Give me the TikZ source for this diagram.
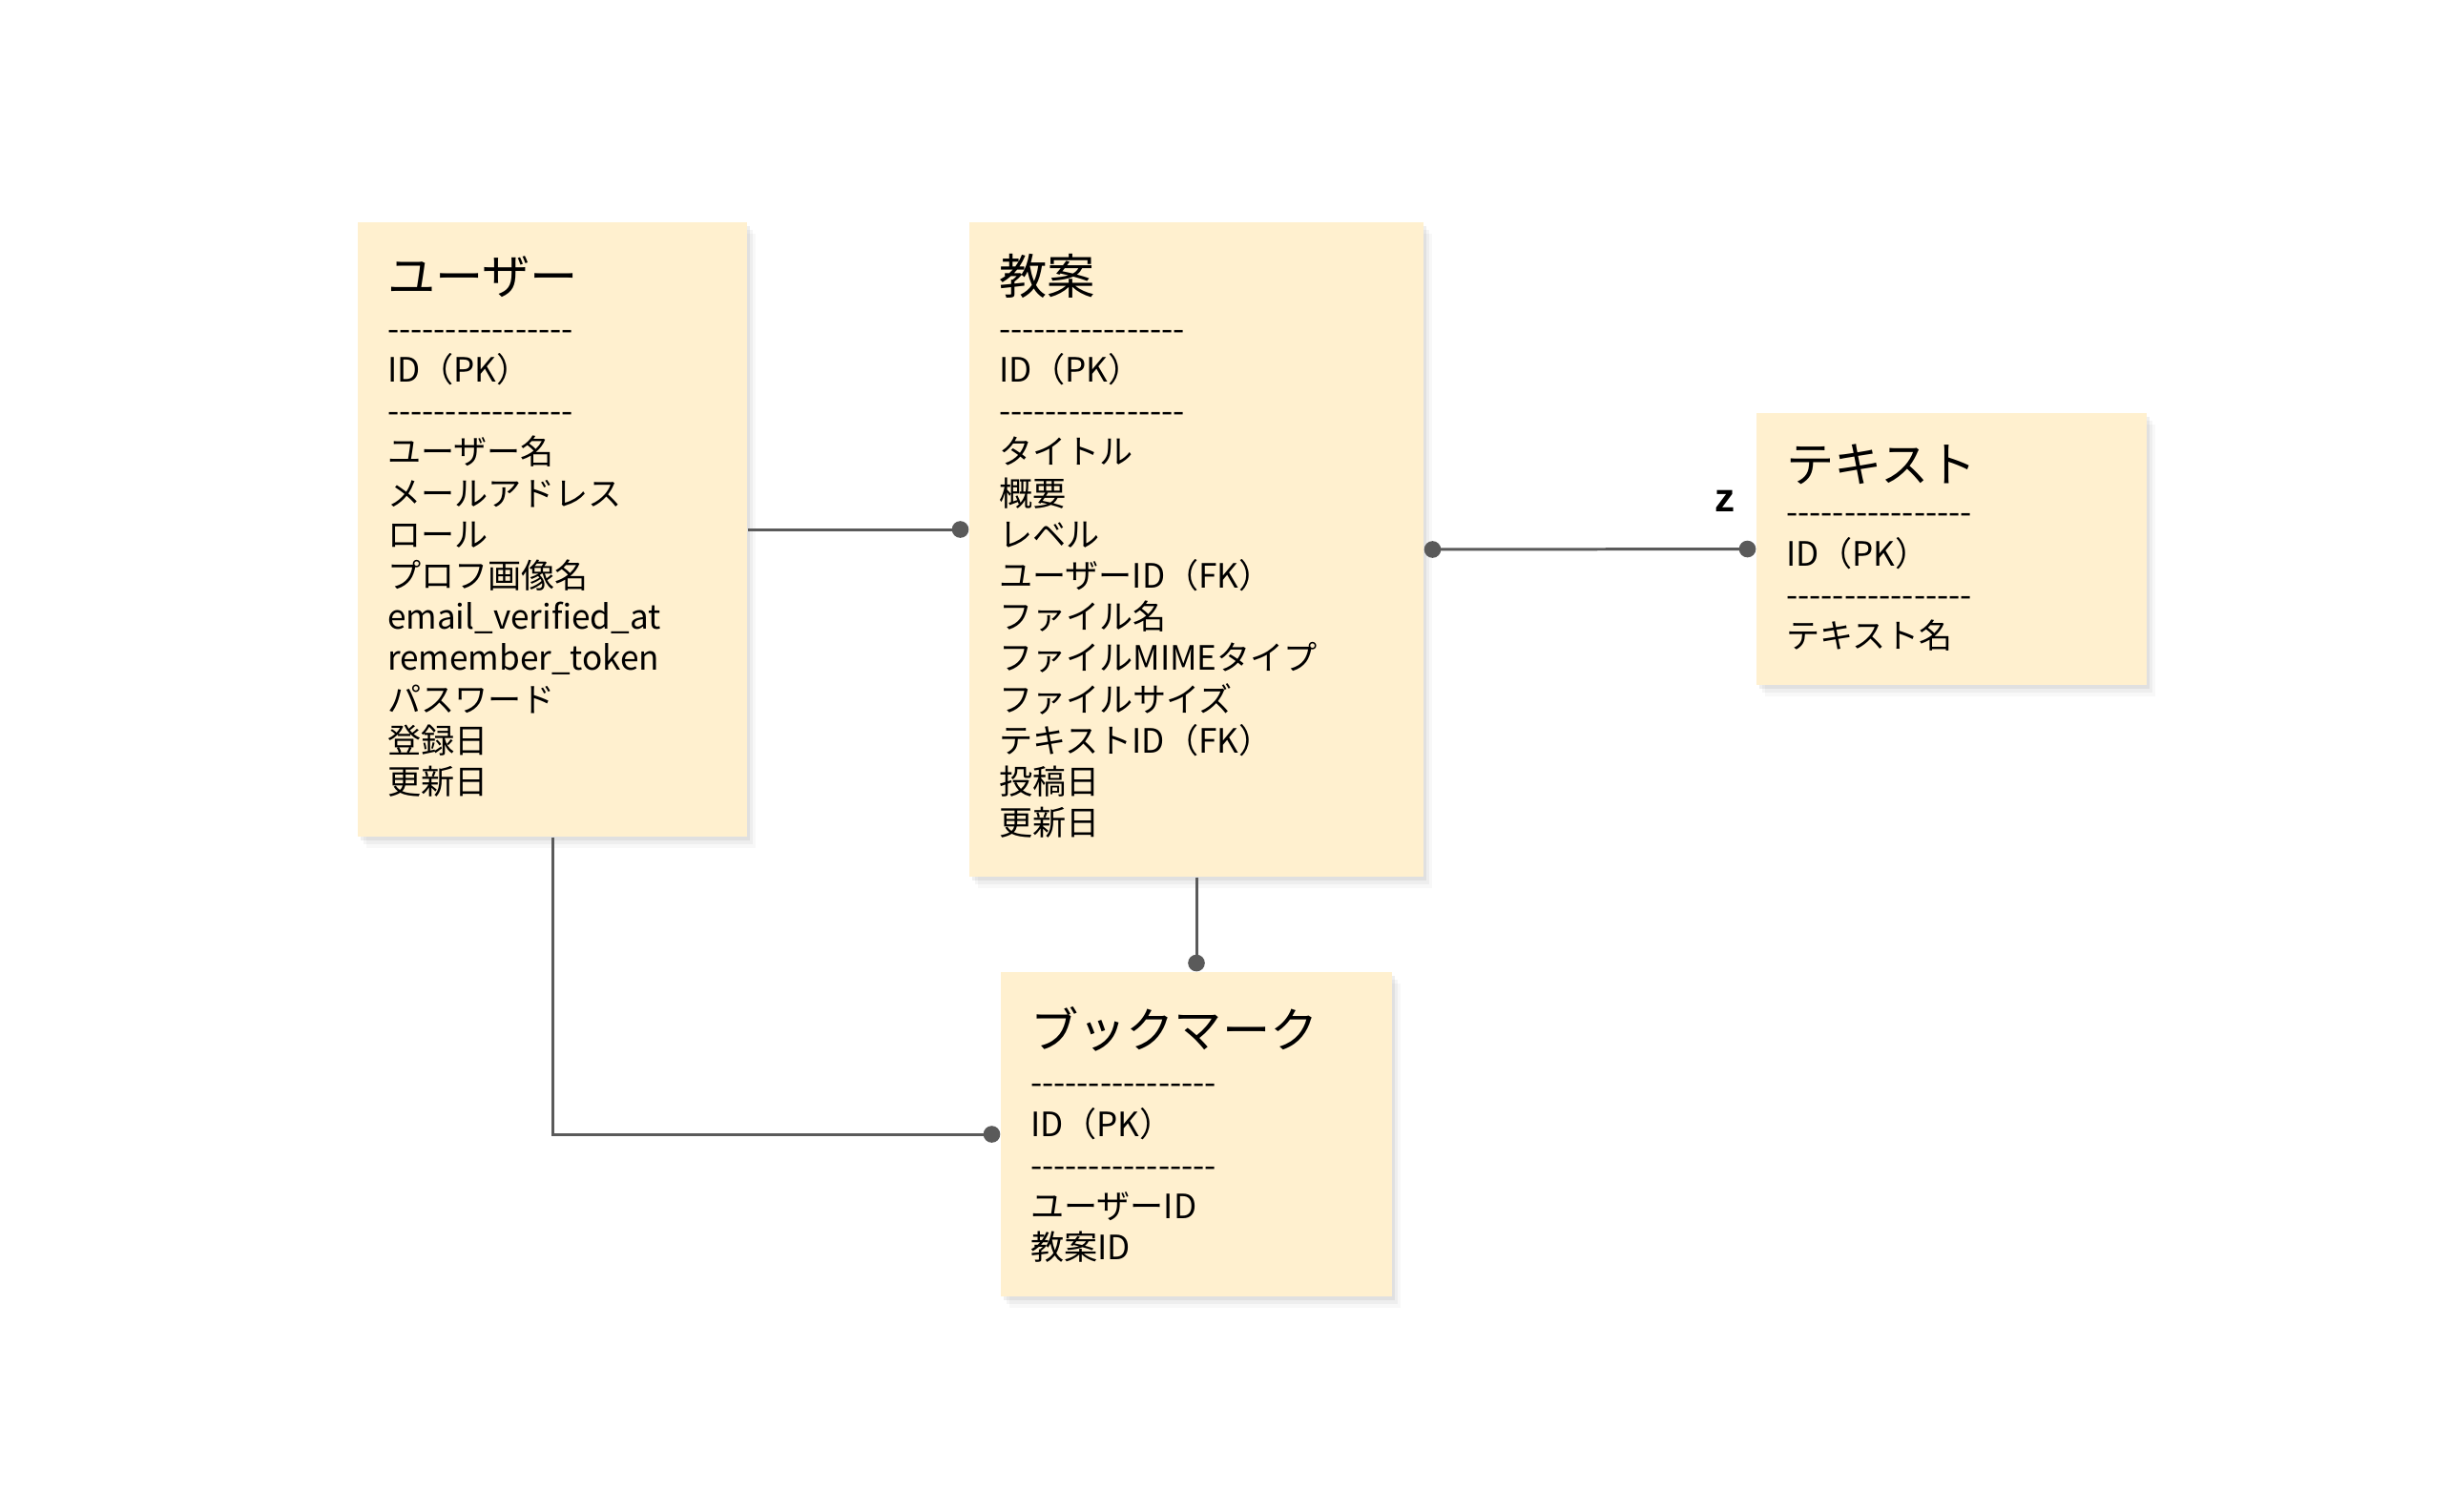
\documentclass[tikz,border=0pt]{standalone}
\usepackage{fontspec}
\newfontfamily\jpfont{Noto Sans CJK JP}
\newfontfamily\zfont{Liberation Sans}
\usetikzlibrary{shadows,arrows.meta,positioning,calc}
\definecolor{entityfill}{RGB}{255,240,207}
\definecolor{relgray}{RGB}{90,90,90}
\newcommand{\sepline}{-{}-{}-{}-{}-{}-{}-{}-{}-{}-{}-{}-{}-{}-{}-{}-{}}
\tikzset{
    entity/.style={rectangle, fill=entityfill, inner sep=0pt,
        drop shadow={shadow xshift=0.09cm, shadow yshift=-0.12cm, opacity=0.05},
        drop shadow={shadow xshift=0.06cm, shadow yshift=-0.08cm, opacity=0.08},
        drop shadow={shadow xshift=0.03cm, shadow yshift=-0.04cm, opacity=0.12}},
    etitle/.style={anchor=base west, inner sep=0pt, font=\jpfont\fontsize{14.3}{17}\selectfont},
    eline/.style={anchor=base west, inner sep=0pt, font=\jpfont\fontsize{10}{12}\selectfont},
    rel/.style={relgray, line width=0.85pt},
    reldot/.style={rel, -{Circle[length=5pt]}},
    dotreldot/.style={rel, {Circle[length=5pt]}-{Circle[length=5pt]}},
}

\begin{document}
\begin{tikzpicture}
    \path[fill=white] (0,0) rectangle (25.70,-15.84);

    % Entities
    \node[entity, minimum width=4.08cm, minimum height=6.44cm] (user) at (5.79,-5.55) {};
    \node[entity, minimum width=4.76cm, minimum height=6.86cm] (lesson) at (12.54,-5.76) {};
    \node[entity, minimum width=4.09cm, minimum height=2.85cm] (text) at (20.455,-5.755) {};
    \node[entity, minimum width=4.10cm, minimum height=3.40cm] (bookmark) at (12.54,-11.89) {};

    % Titles
    \node[etitle] (userT) at ($(user.north west)+(0.31,-0.76)$) {ユーザー};
    \node[etitle] (lessonT) at ($(lesson.north west)+(0.31,-0.76)$) {教案};
    \node[etitle] (textT) at ($(text.north west)+(0.31,-0.73)$) {テキスト};
    \node[etitle] (bookmarkT) at ($(bookmark.north west)+(0.31,-0.80)$) {ブックマーク};

    % Attributes
    \foreach \txt [count=\i] in {\sepline, ID（PK）, \sepline, ユーザー名, メールアドレス, ロール, プロフ画像名, email\_verified\_at, remember\_token, パスワード, 登録日, 更新日} {
        \node[eline] (user\i) at ($(user.north west)+(0.31,{-1.25-0.432*(\i-1)})$) {\txt};
    }
    \foreach \txt [count=\i] in {\sepline, ID（PK）, \sepline, タイトル, 概要, レベル, ユーザーID（FK）, ファイル名, ファイルMIMEタイプ, ファイルサイズ, テキストID（FK）, 投稿日, 更新日} {
        \node[eline] (lesson\i) at ($(lesson.north west)+(0.31,{-1.25-0.432*(\i-1)})$) {\txt};
    }
    \foreach \txt [count=\i] in {\sepline, ID（PK）, \sepline, テキスト名} {
        \node[eline] (text\i) at ($(text.north west)+(0.31,{-1.175-0.432*(\i-1)})$) {\txt};
    }
    \foreach \txt [count=\i] in {\sepline, ID（PK）, \sepline, ユーザーID, 教案ID} {
        \node[eline] (bookmark\i) at ($(bookmark.north west)+(0.31,{-1.295-0.432*(\i-1)})$) {\txt};
    }

    % Relations
    \draw[reldot] (user.east) -- (user.east -| lesson.west);
    \draw[dotreldot] (lesson.east) -- (text.west);
    \node[font=\zfont\bfseries\fontsize{12}{14}\selectfont] (zlabel) at (18.08,-5.25) {z};
    \draw[reldot] (lesson.south) -- (bookmark.north);
    \draw[reldot] (user.south) |- (bookmark.west);
\end{tikzpicture}
\end{document}
